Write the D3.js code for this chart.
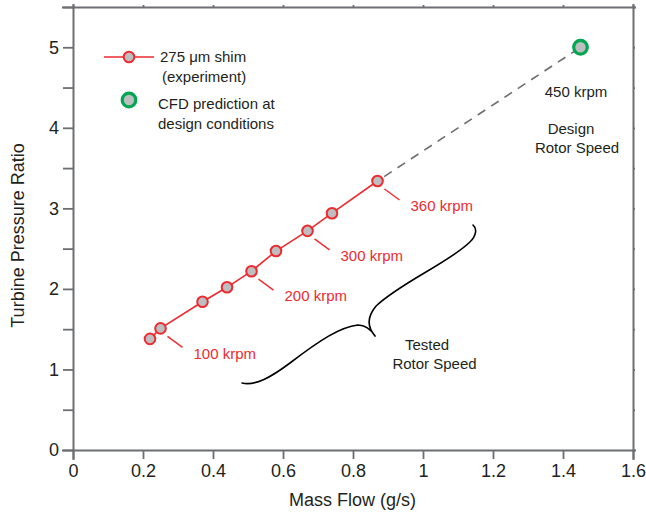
<!DOCTYPE html>
<html>
<head>
<meta charset="utf-8">
<script src="https://cdn.jsdelivr.net/npm/d3@7"></script>
<style>
  html, body { margin: 0; padding: 0; background: #fff; }
  svg { display: block; font-family: "Liberation Sans", Arial, Helvetica, sans-serif; }
</style>
</head>
<body>
<svg id="chart" width="646" height="515"></svg>
<script>
// Measured turbine operating points (275 µm shim)
const massFlow = [0.22, 0.25, 0.37, 0.44, 0.51, 0.58, 0.67, 0.74, 0.87];
const pressureRatio = [1.38, 1.51, 1.84, 2.02, 2.22, 2.47, 2.72, 2.94, 3.34];
const speedLabels = [null, "100 krpm", null, null, "200 krpm", null, "300 krpm", null, "360 krpm"];

// CFD prediction at design conditions
const cfdFlow = [1.45];
const cfdRatio = [5.0];

// Axis ticks
const xTicks = [0, 0.2, 0.4, 0.6, 0.8, 1, 1.2, 1.4, 1.6];
const yTicks = [0, 0.5, 1, 1.5, 2, 2.5, 3, 3.5, 4, 4.5, 5, 5.5];
const yTickLabels = ["0", "", "1", "", "2", "", "3", "", "4", "", "5", ""];

// Curly brace marking the tested speed range, in data units (flow, ratio)
const braceLower = [[0.483, 0.832], [0.520, 0.795], [0.563, 0.894], [0.620, 1.080],
                    [0.706, 1.366], [0.763, 1.527], [0.814, 1.552],
                    [0.837, 1.552], [0.854, 1.477], [0.863, 1.415]];
const braceUpper = [[0.863, 1.415], [0.843, 1.515], [0.837, 1.639], [0.866, 1.788],
                    [0.934, 2.073], [1.077, 2.334], [1.134, 2.582],
                    [1.154, 2.669], [1.154, 2.756], [1.143, 2.793]];

const W = 646, H = 515;
const m = { left: 73, right: 13, top: 7, bottom: 65 };
const svg = d3.select("#chart");

const x = d3.scaleLinear().domain([0, 1.6]).range([m.left, W - m.right]);
const y = d3.scaleLinear().domain([0, 5.5]).range([H - m.bottom, m.top]);

const axisColor = "#6d6e71";
const textColor = "#231f20";
const red = "#ed2a2f";
const green = "#00a651";
const markerFill = "#bcbec0";

// Axes
const gx = svg.append("g").attr("transform", `translate(0,${y(0)})`)
  .call(d3.axisBottom(x).tickValues(xTicks).tickSize(9).tickPadding(5)
        .tickFormat(d => d3.format("")(d)));
const gy = svg.append("g").attr("transform", `translate(${x(0)},0)`)
  .call(d3.axisLeft(y).tickValues(yTicks).tickSize(10).tickPadding(4)
        .tickFormat((d, i) => yTickLabels[i]));
const gt = svg.append("g").attr("transform", `translate(0,${y(5.5)})`)
  .call(d3.axisTop(x).tickValues(xTicks).tickSize(2).tickFormat(""));
const gr = svg.append("g").attr("transform", `translate(${x(1.6)},0)`)
  .call(d3.axisRight(y).tickValues(yTicks).tickSize(2).tickFormat(""));

[gx, gy, gt, gr].forEach(g => {
  g.select(".domain").attr("stroke", axisColor).attr("stroke-width", 2)
    .attr("stroke-linecap", "square");
  g.selectAll(".tick line").attr("stroke", axisColor).attr("stroke-width", 1.8);
  g.selectAll(".tick text").attr("fill", textColor)
    .style("font-size", "18px").style("font-family", "'Liberation Sans', Arial, sans-serif");
});

// Axis titles
svg.append("text")
  .attr("x", (x(0) + x(1.6)) / 2 - 0.5).attr("y", 506)
  .attr("text-anchor", "middle").attr("fill", textColor)
  .style("font-size", "18px").text("Mass Flow (g/s)");
svg.append("text")
  .attr("transform", `translate(24,${(y(0) + y(5.5)) / 2 + 7}) rotate(-90)`)
  .attr("text-anchor", "middle").attr("fill", textColor)
  .style("font-size", "18px").text("Turbine Pressure Ratio");

// Extrapolation toward the design point
const last = massFlow.length - 1;
svg.append("line")
  .attr("x1", x(massFlow[last])).attr("y1", y(pressureRatio[last]))
  .attr("x2", x(cfdFlow[0])).attr("y2", y(cfdRatio[0]))
  .attr("stroke", axisColor).attr("stroke-width", 1.6)
  .attr("stroke-dasharray", "9,7").attr("stroke-dashoffset", -8);

// Experimental line
const pts = massFlow.map((f, i) => [f, pressureRatio[i]]);
svg.append("path")
  .attr("d", d3.line().x(d => x(d[0])).y(d => y(d[1]))(pts))
  .attr("fill", "none").attr("stroke", red).attr("stroke-width", 1.6);

// Speed annotations
pts.forEach((p, i) => {
  if (!speedLabels[i]) return;
  const px = x(p[0]), py = y(p[1]);
  svg.append("line")
    .attr("x1", px + 7).attr("y1", py + 8)
    .attr("x2", px + 22).attr("y2", py + 19)
    .attr("stroke", red).attr("stroke-width", 1.4);
  svg.append("text")
    .attr("x", px + 33).attr("y", py + 25).attr("dy", "0.35em")
    .attr("fill", red).style("font-size", "15px").text(speedLabels[i]);
});

// Experimental markers
svg.append("g").selectAll("circle").data(pts).join("circle")
  .attr("cx", d => x(d[0])).attr("cy", d => y(d[1])).attr("r", 5.3)
  .attr("fill", markerFill).attr("stroke", red).attr("stroke-width", 2);

// CFD marker
svg.append("circle")
  .attr("cx", x(cfdFlow[0])).attr("cy", y(cfdRatio[0])).attr("r", 6.8)
  .attr("fill", markerFill).attr("stroke", green).attr("stroke-width", 3.2);

// Brace
function bracePath(ptsArr) {
  const p = d3.path();
  const P = ptsArr.map(d => [x(d[0]), y(d[1])]);
  p.moveTo(P[0][0], P[0][1]);
  for (let i = 1; i + 2 < P.length; i += 3) {
    p.bezierCurveTo(P[i][0], P[i][1], P[i + 1][0], P[i + 1][1], P[i + 2][0], P[i + 2][1]);
  }
  return p.toString();
}
svg.append("path").attr("d", bracePath(braceLower) + bracePath(braceUpper))
  .attr("fill", "none").attr("stroke", "#000").attr("stroke-width", 1.6)
  .attr("stroke-linejoin", "round").attr("stroke-linecap", "round");

// Text annotations
function note(lines, cx, cy, anchor) {
  const t = svg.append("text").attr("fill", textColor).style("font-size", "15px")
    .attr("text-anchor", anchor || "middle");
  lines.forEach((s, i) => {
    t.append("tspan").attr("x", cx[i]).attr("y", cy[i]).attr("dy", "0.35em").text(s);
  });
}
note(["Tested", "Rotor Speed"], [427, 434.5], [345, 364]);
note(["450 krpm"], [576], [91.5]);
note(["Design", "Rotor Speed"], [571, 577], [129, 147.5]);

// Legend
const lg = svg.append("g");
lg.append("line").attr("x1", 104).attr("x2", 154).attr("y1", 57).attr("y2", 57)
  .attr("stroke", red).attr("stroke-width", 1.6);
lg.append("circle").attr("cx", 129).attr("cy", 57).attr("r", 5.3)
  .attr("fill", markerFill).attr("stroke", red).attr("stroke-width", 2);
lg.append("circle").attr("cx", 129).attr("cy", 100).attr("r", 6.8)
  .attr("fill", markerFill).attr("stroke", green).attr("stroke-width", 3.2);
note(["275 \u03BCm shim", "(experiment)"], [160, 162], [57, 76.5], "start");
note(["CFD prediction at", "design conditions"], [158, 158], [104, 123.5], "start");
</script>
</body>
</html>
